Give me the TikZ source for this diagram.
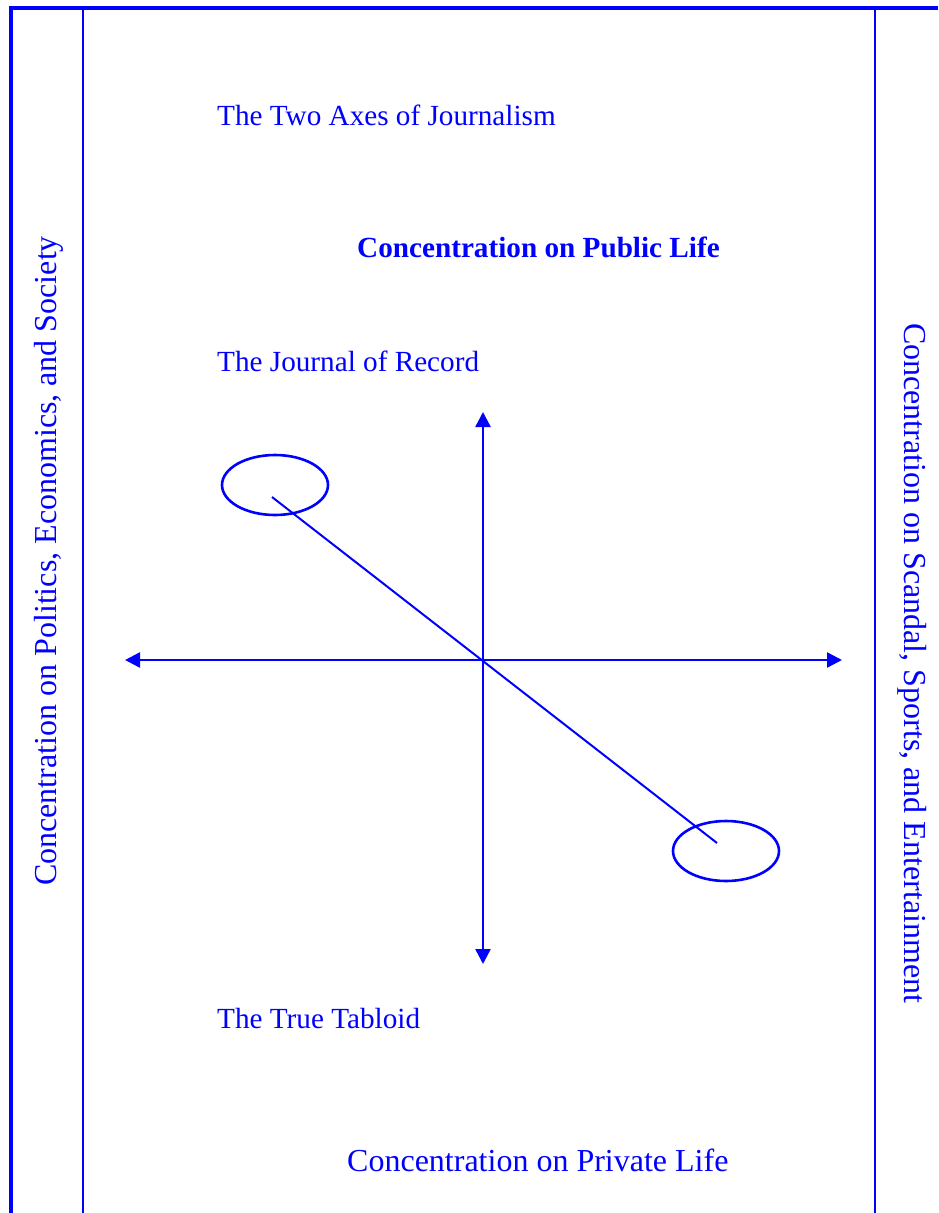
\documentclass[tikz,border=0pt]{standalone}
\usepackage{fontspec}
\setmainfont{Liberation Serif}
\usetikzlibrary{arrows.meta,shapes.geometric}
\definecolor{ink}{RGB}{0,0,255}
\begin{document}
\begin{tikzpicture}[x=1pt,y=-1pt,
  label text/.style={text=ink,inner sep=0pt,anchor=base west,font=\fontsize{29.2}{35}\selectfont},
  side text/.style={text=ink,inner sep=0pt,anchor=base west,font=\fontsize{32}{38}\selectfont},
  frame/.style={draw=ink,line width=2.4pt},
  outer frame/.style={draw=ink,line width=4.4pt},
  axis/.style={draw=ink,line width=2.4pt,{Triangle[length=15pt,width=15pt]}-{Triangle[length=15pt,width=15pt]}},
  marker/.style={draw=ink,line width=2.6pt,ellipse,minimum width=106pt,minimum height=60pt,inner sep=0pt},
  link/.style={draw=ink,line width=2pt}]
\useasboundingbox (0,0) rectangle (938,1213);

% frame lines
\coordinate (tl) at (11,6);
\coordinate (bl) at (11,1213);
\draw[outer frame] (9,8) -- (938,8);
\draw[outer frame] (tl) -- (bl);
\coordinate (il-top) at (83,10);
\coordinate (il-bot) at (83,1213);
\draw[frame] (il-top) -- (il-bot);
\coordinate (ir-top) at (875,10);
\coordinate (ir-bot) at (875,1213);
\draw[frame] (ir-top) -- (ir-bot);

% headings and labels
\node[label text] (title) at (217,125) {The Two Axes of Journalism};
\node[label text,font=\fontsize{29.2}{35}\selectfont\bfseries] (public) at (357,257) {Concentration on Public Life};
\node[label text] (record) at (217,371) {The Journal of Record};
\node[label text] (tabloid) at (217,1028) {The True Tabloid};
\node[side text] (private) at (347,1171) {Concentration on Private Life};
\node[side text,rotate=90] (politics) at (56,886) {Concentration on Politics, Economics, and Society};
\node[side text,rotate=-90] (scandal) at (904,323) {Concentration on Scandal, Sports, and Entertainment};

% axes
\coordinate (west) at (125,660);
\coordinate (east) at (842,660);
\coordinate (north) at (483,412);
\coordinate (south) at (483,964);
\draw[axis] (west) -- (east);
\draw[axis] (north) -- (south);

% the two poles and the line joining them
\node[marker] (record-pole) at (275,485) {};
\node[marker] (tabloid-pole) at (726,851) {};
\coordinate (record-end) at (272,497);
\coordinate (tabloid-end) at (717,843);
\draw[link] (record-end) -- (tabloid-end);
\end{tikzpicture}
\end{document}
